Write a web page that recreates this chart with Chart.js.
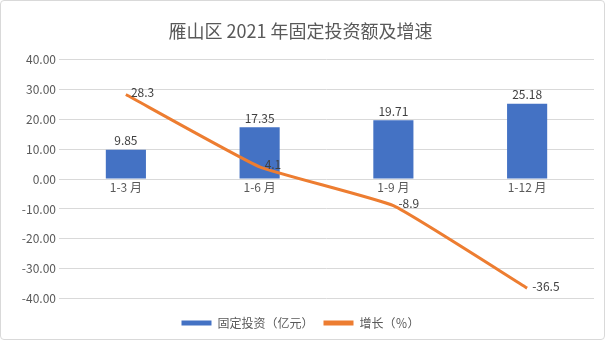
<!DOCTYPE html>
<html>
<head>
<meta charset="utf-8">
<script src="https://cdn.jsdelivr.net/npm/chart.js@4/dist/chart.umd.min.js"></script>
<style>
  html, body { margin: 0; padding: 0; background: #fff; }
  .chart-box {
    width: 605px;
    height: 340px;
    box-sizing: border-box;
    border: 1px solid #d9d9d9;
    border-radius: 4px;
    position: relative;
  }
</style>
</head>
<body>
<div class="chart-box"><canvas id="chart"></canvas></div>
<script>
const categories = ['1-3 月', '1-6 月', '1-9 月', '1-12 月'];
const investment = [9.85, 17.35, 19.71, 25.18];
const growth = [28.3, 4.1, -8.9, -36.5];
const seriesNames = ['固定投资（亿元）', '增长（％）'];
const chartTitle = '雁山区 2021 年固定投资额及增速';

const FONT = '"Noto Sans CJK SC", "Noto Sans", sans-serif';

// data labels drawn next to bars / points
const valueLabels = {
  id: 'valueLabels',
  afterDatasetsDraw(chart) {
    const ctx = chart.ctx;
    ctx.save();
    ctx.font = '12px ' + FONT;
    ctx.fillStyle = '#404040';
    chart.data.datasets.forEach((ds, i) => {
      const meta = chart.getDatasetMeta(i);
      meta.data.forEach((el, j) => {
        const v = ds.data[j];
        if (meta.type === 'bar') {
          ctx.textAlign = 'center';
          ctx.textBaseline = 'bottom';
          ctx.fillText(v.toFixed(2), el.x, el.y - 3);
        } else {
          ctx.textAlign = 'left';
          ctx.textBaseline = 'middle';
          ctx.fillText(v.toFixed(1), el.x + 5, el.y - 2);
        }
      });
    });
    ctx.restore();
  },
};

new Chart(document.getElementById('chart'), {
  data: {
    labels: categories,
    datasets: [
      {
        type: 'line',
        label: seriesNames[1],
        data: growth,
        borderColor: '#ed7d31',
        backgroundColor: '#ed7d31',
        borderWidth: 3,
        pointRadius: 0,
        tension: 0.12,
        order: 0,
      },
      {
        type: 'bar',
        label: seriesNames[0],
        data: investment,
        backgroundColor: '#4472c4',
        categoryPercentage: 1,
        barPercentage: 0.3,
        order: 1,
      },
    ],
  },
  options: {
    responsive: true,
    maintainAspectRatio: false,
    animation: false,
    layout: { padding: { top: 19, left: 6, right: 10, bottom: 0 } },
    plugins: {
      title: {
        display: true,
        text: chartTitle,
        color: '#595959',
        font: { family: FONT, size: 18, weight: 'normal' },
        padding: { top: 0, bottom: 18 },
      },
      legend: {
        position: 'bottom',
        reverse: true,
        // empty title only used as spacer above the legend row
        title: { display: true, text: ' ', font: { size: 7 }, padding: 0 },
        labels: {
          color: '#595959',
          font: { family: FONT, size: 12 },
          boxWidth: 30,
          boxHeight: 5,
          padding: 10,
          generateLabels(chart) {
            const items = Chart.defaults.plugins.legend.labels.generateLabels(chart);
            items.forEach((it) => { it.lineWidth = 0; });
            return items;
          },
        },
      },
      tooltip: { enabled: false },
    },
    scales: {
      x: {
        position: { y: 0 },
        grid: { display: false, drawTicks: false, tickLength: 0 },
        border: { display: false },
        ticks: { color: '#595959', font: { family: FONT, size: 12 }, padding: 1 },
      },
      y: {
        min: -40,
        max: 40,
        afterFit(scale) { scale.width = 52; },
        ticks: {
          stepSize: 10,
          color: '#595959',
          font: { family: FONT, size: 12 },
          callback: (v) => v.toFixed(2),
        },
        grid: { color: '#d9d9d9', drawTicks: false },
        border: { display: false },
      },
    },
  },
  plugins: [valueLabels],
});
</script>
</body>
</html>
